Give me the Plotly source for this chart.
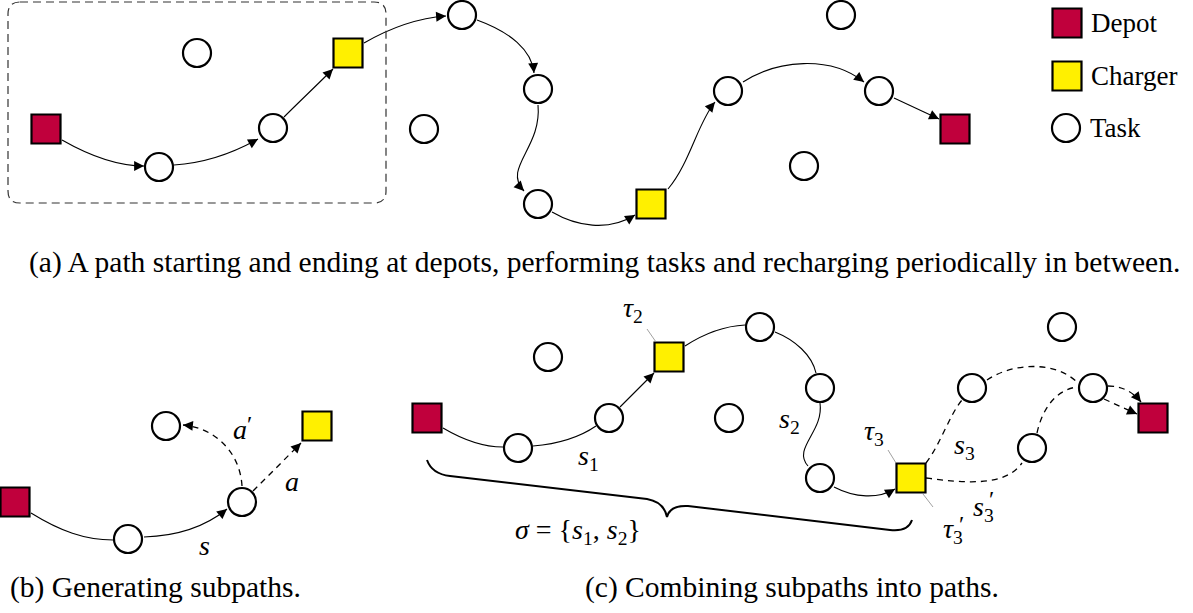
import plotly.graph_objects as go

# ---------------- data: node positions (pixel-like units) ----------------
# Panel (a)
a_depot_x = [46, 955]
a_depot_y = [129, 129]
a_charger_x = [348, 651]
a_charger_y = [53, 204]
a_task_x = [159, 273, 197, 462, 538, 424, 538, 728, 879, 841, 804]
a_task_y = [167, 128, 53, 15, 89, 129, 204, 91, 91, 15, 166]

# Legend
legend_labels = ["Depot", "Charger", "Task"]
legend_x = [1067, 1067, 1066]
legend_y = [23, 76, 128]

# Panel (b)
b_depot_x = [15]
b_depot_y = [502]
b_charger_x = [317]
b_charger_y = [426]
b_task_x = [128, 242, 166]
b_task_y = [539, 502, 426]

# Panel (c)
c_depot_x = [427, 1153]
c_depot_y = [418, 418]
c_charger_x = [669, 911]
c_charger_y = [357, 478]
c_task_x = [518, 609, 548, 729, 760, 820, 820, 972, 1062, 1093, 1032]
c_task_y = [448, 418, 357, 418, 327, 388, 478, 388, 327, 388, 448]

# Edges: cubic Bezier (start, ctrl1, ctrl2, end), arrow flag, dashed flag
edges = [
    # panel (a)
    ((62, 140), (90, 156), (118, 166), (144, 166), True, False),
    ((174, 165), (205, 163), (235, 152), (258, 139), True, False),
    ((284, 117), (300, 101), (317, 85), (333, 69), True, False),
    ((364, 43), (390, 28), (418, 18), (446, 16), True, False),
    ((477, 20), (510, 32), (532, 50), (534, 73), True, False),
    ((538, 105), (542, 148), (502, 168), (524, 191), True, False),
    ((552, 212), (576, 226), (608, 232), (635, 215), True, False),
    ((668, 189), (690, 163), (698, 122), (715, 102), True, False),
    ((743, 82), (777, 60), (830, 55), (864, 82), True, False),
    ((894, 98), (909, 105), (924, 112), (939, 119), True, False),
    # panel (b)
    ((31, 513), (60, 531), (85, 540), (113, 540), False, False),
    ((144, 537), (175, 536), (205, 527), (227, 509), True, False),
    ((242, 486), (240, 452), (215, 428), (183, 425), True, True),
    ((253, 491), (269, 475), (285, 459), (301, 443), True, True),
    # panel (c)
    ((443, 428), (465, 441), (485, 447), (503, 447), False, False),
    ((533, 446), (557, 444), (580, 437), (596, 426), False, False),
    ((620, 407), (631, 396), (643, 384), (654, 373), True, False),
    ((685, 346), (705, 333), (725, 326), (745, 325), False, False),
    ((775, 332), (795, 340), (812, 355), (816, 373), False, False),
    ((820, 403), (824, 432), (792, 448), (808, 466), False, False),
    ((834, 487), (855, 498), (878, 499), (895, 489), True, False),
    ((926, 463), (940, 445), (950, 414), (962, 400), False, True),
    ((987, 380), (1012, 363), (1055, 360), (1078, 383), False, True),
    ((1108, 386), (1122, 386), (1133, 392), (1141, 402), True, True),
    ((926, 478), (965, 483), (1005, 487), (1022, 463), False, True),
    ((1037, 433), (1042, 410), (1055, 390), (1077, 387), False, True),
    ((1104, 399), (1115, 404), (1126, 409), (1137, 414), True, True),
]

# Brace under panel (c)
brace = [(427, 460), (432, 474), (450, 476), (647, 499), (664, 502), (667, 517),
         (670, 505), (688, 506), (890, 530), (908, 532), (912, 520)]

# Dashed rounded box in panel (a)
box = (8, 2, 386, 203, 12)

# Gray tick lines for labels
ticks = [((647, 329), (656, 342)), ((888, 450), (896, 463)), ((923, 494), (933, 507))]

# Math labels: (text, x, y)
math_labels = [
    ("<i>τ</i><sub>2</sub>", 633, 309),
    ("<i>τ</i><sub>3</sub>", 874, 432),
    ("<i>τ</i><sub>3</sub>", 953, 530),
    ("<i>s</i><sub>1</sub>", 588, 457),
    ("<i>s</i><sub>2</sub>", 789, 420),
    ("<i>s</i><sub>3</sub>", 964, 446),
    ("<i>s</i><sub>3</sub>", 983, 508),
    ("<i>σ</i> = {<i>s</i><sub>1</sub>, <i>s</i><sub>2</sub>}", 578, 531),
    ("<i>a</i>", 240, 429),
    ("<i>a</i>", 292, 481),
    ("<i>s</i>", 204, 545),
]
primes = [(961, 524), (991, 499), (249, 424)]

captions = [
    ("(a) A path starting and ending at depots, performing tasks and recharging periodically in between.", 604, 262, "center"),
    ("(b) Generating subpaths.", 8, 587, "left"),
    ("(c) Combining subpaths into paths.", 583, 587, "left"),
]

DEPOT = "#C0003C"
CHARGER = "#FFF000"
SERIF = "Liberation Serif"
W, H = 1193, 613

fig = go.Figure()

def add_nodes(xs, ys, symbol, color, size):
    fig.add_trace(go.Scatter(
        x=xs, y=ys, mode="markers", hoverinfo="skip", showlegend=False,
        cliponaxis=False,
        marker=dict(symbol=symbol, size=size, color=color,
                    line=dict(color="black", width=2.2)),
    ))

add_nodes(a_task_x + b_task_x + c_task_x, a_task_y + b_task_y + c_task_y,
          "circle", "white", 28)
add_nodes(a_depot_x + b_depot_x + c_depot_x, a_depot_y + b_depot_y + c_depot_y,
          "square", DEPOT, 29)
add_nodes(a_charger_x + b_charger_x + c_charger_x,
          a_charger_y + b_charger_y + c_charger_y, "square", CHARGER, 29)

# legend symbols
add_nodes(legend_x[:1], legend_y[:1], "square", DEPOT, 29)
add_nodes(legend_x[1:2], legend_y[1:2], "square", CHARGER, 29)
add_nodes(legend_x[2:], legend_y[2:], "circle", "white", 28)

shapes = []
annotations = []
for (p0, c1, c2, p3, arrow, dashed) in edges:
    path = f"M {p0[0]},{p0[1]} C {c1[0]},{c1[1]} {c2[0]},{c2[1]} {p3[0]},{p3[1]}"
    shapes.append(dict(type="path", path=path, xref="x", yref="y", layer="below",
                       line=dict(color="black", width=1.3 if dashed else 1.1,
                                 dash="6px,5px" if dashed else "solid")))
    if arrow:
        dx = p3[0] - c2[0]
        dy = p3[1] - c2[1]
        n = (dx * dx + dy * dy) ** 0.5
        annotations.append(dict(
            x=p3[0], y=p3[1], ax=p3[0] - dx / n * 6, ay=p3[1] - dy / n * 6,
            xref="x", yref="y", axref="x", ayref="y", text="", showarrow=True,
            arrowhead=2, arrowsize=1.8, arrowwidth=1.1, arrowcolor="black",
            standoff=0, startstandoff=0))

bp = brace
brace_path = (f"M {bp[0][0]},{bp[0][1]} Q {bp[1][0]},{bp[1][1]} {bp[2][0]},{bp[2][1]} "
              f"L {bp[3][0]},{bp[3][1]} Q {bp[4][0]},{bp[4][1]} {bp[5][0]},{bp[5][1]} "
              f"Q {bp[6][0]},{bp[6][1]} {bp[7][0]},{bp[7][1]} "
              f"L {bp[8][0]},{bp[8][1]} Q {bp[9][0]},{bp[9][1]} {bp[10][0]},{bp[10][1]}")
shapes.append(dict(type="path", path=brace_path, xref="x", yref="y",
                   line=dict(color="black", width=2)))

x0, y0, x1, y1, r = box
box_path = (f"M {x0 + r},{y0} L {x1 - r},{y0} Q {x1},{y0} {x1},{y0 + r} "
            f"L {x1},{y1 - r} Q {x1},{y1} {x1 - r},{y1} L {x0 + r},{y1} "
            f"Q {x0},{y1} {x0},{y1 - r} L {x0},{y0 + r} Q {x0},{y0} {x0 + r},{y0} Z")
shapes.append(dict(type="path", path=box_path, xref="x", yref="y", layer="below",
                   line=dict(color="#333333", width=1.2, dash="8px,5px")))

for (pa, pb) in ticks:
    shapes.append(dict(type="line", x0=pa[0], y0=pa[1], x1=pb[0], y1=pb[1],
                       xref="x", yref="y", line=dict(color="#888888", width=0.8)))

for t, x, y in math_labels:
    annotations.append(dict(x=x, y=y, xref="x", yref="y", text=t, showarrow=False,
                            font=dict(family=SERIF, size=28, color="black"),
                            xanchor="center", yanchor="middle"))
for x, y in primes:
    annotations.append(dict(x=x, y=y, xref="x", yref="y", text="′", showarrow=False,
                            font=dict(family=SERIF, size=24, color="black"),
                            xanchor="center", yanchor="middle"))

for lab, x, y in zip(legend_labels, legend_x, legend_y):
    annotations.append(dict(x=x + 22, y=y, xref="x", yref="y", text=lab,
                            showarrow=False, xanchor="left", yanchor="middle",
                            font=dict(family=SERIF, size=27, color="black")))

for t, x, y, anc in captions:
    annotations.append(dict(x=x, y=y, xref="x", yref="y", text=t, showarrow=False,
                            xanchor=anc, yanchor="middle",
                            font=dict(family=SERIF, size=29.5, color="black")))

fig.update_layout(
    width=W, height=H, margin=dict(l=0, r=0, t=0, b=0),
    paper_bgcolor="white", plot_bgcolor="white",
    xaxis=dict(range=[0, W], visible=False, fixedrange=True),
    yaxis=dict(range=[H, 0], visible=False, fixedrange=True),
    shapes=shapes, annotations=annotations, showlegend=False,
)

fig.write_html("out.html",
               config={"displayModeBar": False},
               post_script="document.body.style.margin='0';"
                           "document.body.style.overflow='hidden';")
